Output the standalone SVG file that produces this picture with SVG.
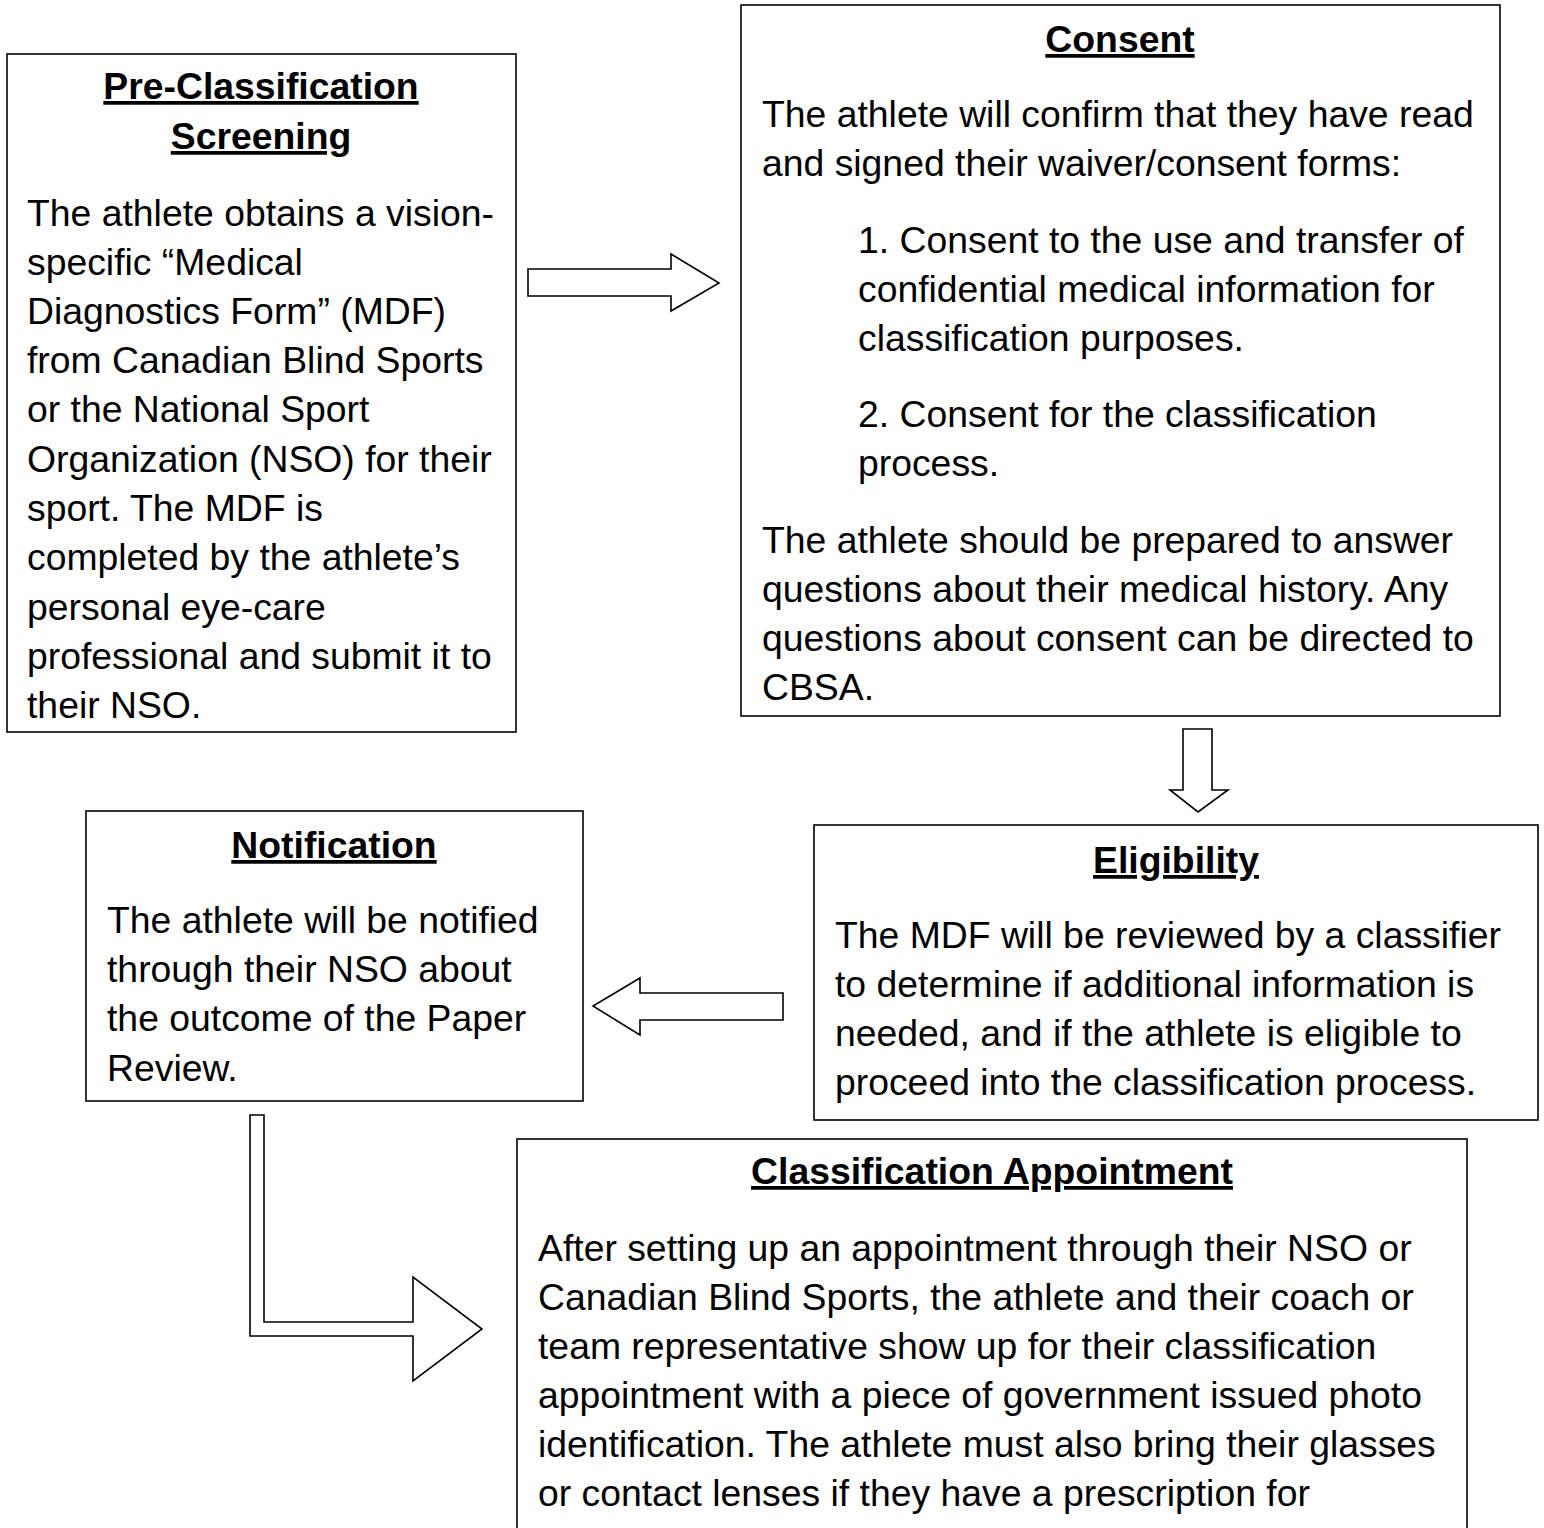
<svg xmlns="http://www.w3.org/2000/svg" width="1544" height="1528" viewBox="0 0 1544 1528">
<style>
.box{fill:#fff;stroke:#000;stroke-width:1.6}
.arr{fill:#fff;stroke:#000;stroke-width:1.6;stroke-linejoin:miter}
text{font-family:"Liberation Sans",Arial,sans-serif;font-size:37.33px;fill:#000}
.h{font-weight:bold;text-anchor:middle;text-decoration:underline}
</style>
<rect width="1544" height="1528" fill="#fff"/>
<g id="connectors">
<polygon class="arr" points="528,269 671,269 671,254 719,283 671,311 671,296 528,296"/>
<polygon class="arr" points="1183,729 1212,729 1212,790 1228,790 1198,812 1170,790 1183,790"/>
<polygon class="arr" points="783,993 640,993 640,978 593,1006 640,1035 640,1020 783,1020"/>
<polygon class="arr" points="250,1115 264,1115 264,1322 413,1322 413,1277 482,1329 413,1381 413,1336 250,1336"/>
</g>
<g id="pre-classification">
<rect class="box" x="7" y="54" width="509" height="678"/>
<text class="h" x="261" y="99">Pre-Classification</text>
<text class="h" x="261" y="149">Screening</text>
<text x="27" y="226">The athlete obtains a vision-</text>
<text x="27" y="275">specific “Medical</text>
<text x="27" y="324">Diagnostics Form” (MDF)</text>
<text x="27" y="373">from Canadian Blind Sports</text>
<text x="27" y="422">or the National Sport</text>
<text x="27" y="472">Organization (NSO) for their</text>
<text x="27" y="521">sport. The MDF is</text>
<text x="27" y="570">completed by the athlete’s</text>
<text x="27" y="620">personal eye-care</text>
<text x="27" y="669">professional and submit it to</text>
<text x="27" y="718">their NSO.</text>
</g>
<g id="consent">
<rect class="box" x="741" y="5" width="759" height="711"/>
<text class="h" x="1120" y="52">Consent</text>
<text x="762" y="127">The athlete will confirm that they have read</text>
<text x="762" y="176">and signed their waiver/consent forms:</text>
<text x="858" y="253">1. Consent to the use and transfer of</text>
<text x="858" y="302">confidential medical information for</text>
<text x="858" y="351">classification purposes.</text>
<text x="858" y="427">2. Consent for the classification</text>
<text x="858" y="476">process.</text>
<text x="762" y="553">The athlete should be prepared to answer</text>
<text x="762" y="602">questions about their medical history. Any</text>
<text x="762" y="651">questions about consent can be directed to</text>
<text x="762" y="700">CBSA.</text>
</g>
<g id="notification">
<rect class="box" x="86" y="811" width="497" height="290"/>
<text class="h" x="334" y="858">Notification</text>
<text x="107" y="933">The athlete will be notified</text>
<text x="107" y="982">through their NSO about</text>
<text x="107" y="1031">the outcome of the Paper</text>
<text x="107" y="1081">Review.</text>
</g>
<g id="eligibility">
<rect class="box" x="814" y="825" width="724" height="295"/>
<text class="h" x="1176" y="873">Eligibility</text>
<text x="835" y="948">The MDF will be reviewed by a classifier</text>
<text x="835" y="997">to determine if additional information is</text>
<text x="835" y="1046">needed, and if the athlete is eligible to</text>
<text x="835" y="1095">proceed into the classification process.</text>
</g>
<g id="classification-appointment">
<rect class="box" x="517" y="1139" width="950" height="420"/>
<text class="h" x="992" y="1184">Classification Appointment</text>
<text x="538" y="1261">After setting up an appointment through their NSO or</text>
<text x="538" y="1310">Canadian Blind Sports, the athlete and their coach or</text>
<text x="538" y="1359">team representative show up for their classification</text>
<text x="538" y="1408">appointment with a piece of government issued photo</text>
<text x="538" y="1457">identification. The athlete must also bring their glasses</text>
<text x="538" y="1506">or contact lenses if they have a prescription for</text>
</g>
</svg>
